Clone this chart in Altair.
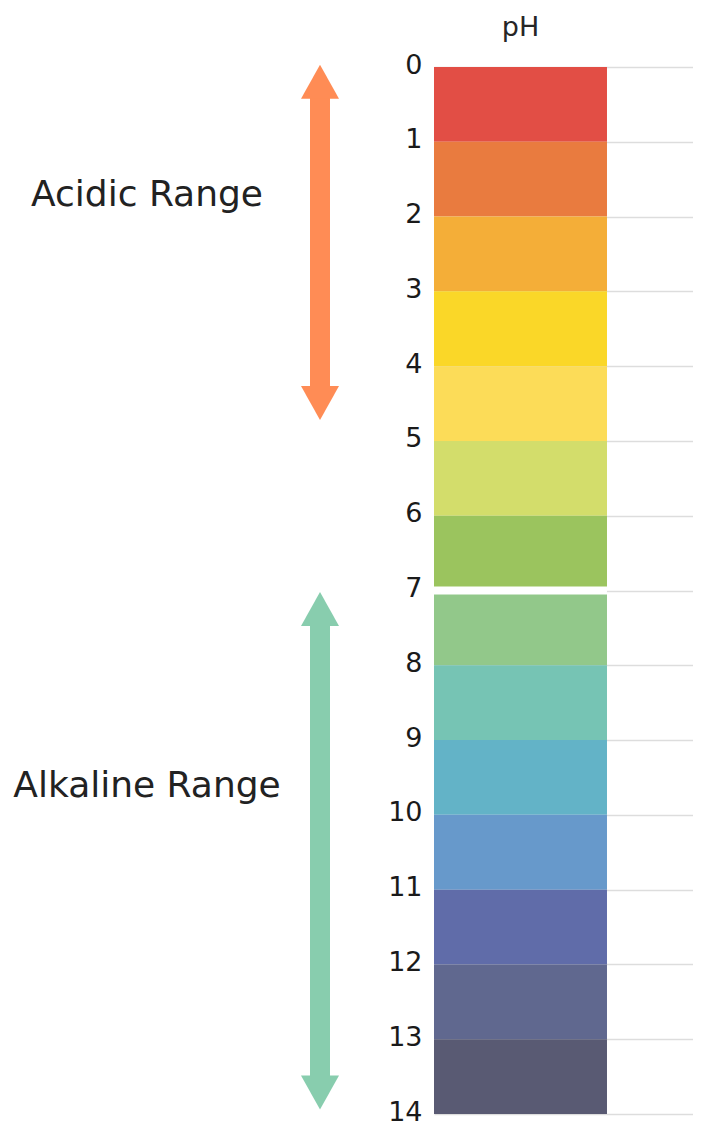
import altair as alt
import pandas as pd

# pH bands
ph_start = list(range(0, 14))
ph_end = list(range(1, 15))
band_names = [f"pH {i}" for i in range(14)]
band_colors = ["#E24E45", "#E97B3F", "#F4AE38", "#FAD728", "#FCDC58", "#D3DD6B",
               "#9BC45E", "#92C88A", "#76C4B4", "#63B3C7", "#6799CB", "#606CA9",
               "#60688F", "#595A73"]
tick_values = list(range(15))
column_label = "pH"
neutral = [7]

# range arrows / annotations
range_names = ["Acidic Range", "Alkaline Range"]
range_start = [-0.03, 7.02]
range_end = [4.72, 13.94]
range_label_pos = [1.86, 9.76]
range_colors = ["#FF8C55", "#88CDAE"]

bands = pd.DataFrame({"col": column_label, "start": ph_start, "end": ph_end, "name": band_names})
gap = pd.DataFrame({"col": column_label, "y": neutral})
ranges = pd.DataFrame({"name": range_names, "start": range_start, "end": range_end,
                       "mid": range_label_pos})

y_scale = alt.Scale(domain=[0, 14], reverse=True, nice=False, zero=False)
x_enc = alt.X("col:N",
              scale=alt.Scale(paddingOuter=0.2486, paddingInner=0, align=0),
              axis=alt.Axis(orient="top", title=None, labelAngle=0, ticks=False, tickSize=0,
                            domain=False, labelFontSize=27, labelFont="DejaVu Sans",
                            labelColor="#262626", labelPadding=26, grid=False))

bars = alt.Chart(bands).mark_bar().encode(
    x=x_enc,
    y=alt.Y("start:Q", scale=y_scale,
            axis=alt.Axis(values=tick_values, format="d", title=None, ticks=False, tickSize=0,
                          domain=False, labelFontSize=27, labelFont="DejaVu Sans",
                          labelColor="#1a1a1a", labelPadding=12, grid=True,
                          gridColor="#dddddd", gridWidth=1.5, labelBaseline="middle",
                          labelOffset=-2)),
    y2="end:Q",
    color=alt.Color("name:N", scale=alt.Scale(domain=band_names, range=band_colors), legend=None),
)

gap_layer = alt.Chart(gap).mark_bar(color="white", yOffset=-4, y2Offset=4).encode(
    x="col:N", y="y:Q", y2="y:Q"
)

arrow_color = alt.Color("name:N", scale=alt.Scale(domain=range_names, range=range_colors), legend=None)

shaft = alt.Chart(ranges).mark_rule(strokeWidth=20, yOffset=25, y2Offset=-25).encode(
    x=alt.value(-114), y="start:Q", y2="end:Q", color=arrow_color
)
head_up = alt.Chart(ranges).mark_point(shape="M0,0L1,1.79L-1,1.79Z", size=1444, filled=True,
                                       opacity=1, strokeWidth=0).encode(
    x=alt.value(-114), y="start:Q", color=arrow_color
)
head_down = alt.Chart(ranges).mark_point(shape="M0,0L1,-1.79L-1,-1.79Z", size=1444, filled=True,
                                         opacity=1, strokeWidth=0).encode(
    x=alt.value(-114), y="end:Q", color=arrow_color
)
labels = alt.Chart(ranges).mark_text(fontSize=36, font="DejaVu Sans", color="#222222",
                                     align="center", baseline="alphabetic").encode(
    x=alt.value(-287), y="mid:Q", text="name:N"
)

chart = alt.layer(bars, gap_layer, shaft, head_up, head_down, labels).resolve_scale(
    color="independent"
).properties(
    width=259, height=1047,
    autosize=alt.AutoSizeParams(type="none"),
    padding={"left": 426, "top": 59, "right": 0, "bottom": 16},
).configure_view(stroke=None)

chart.save("out.html", embed_options={"renderer": "svg", "actions": False})
